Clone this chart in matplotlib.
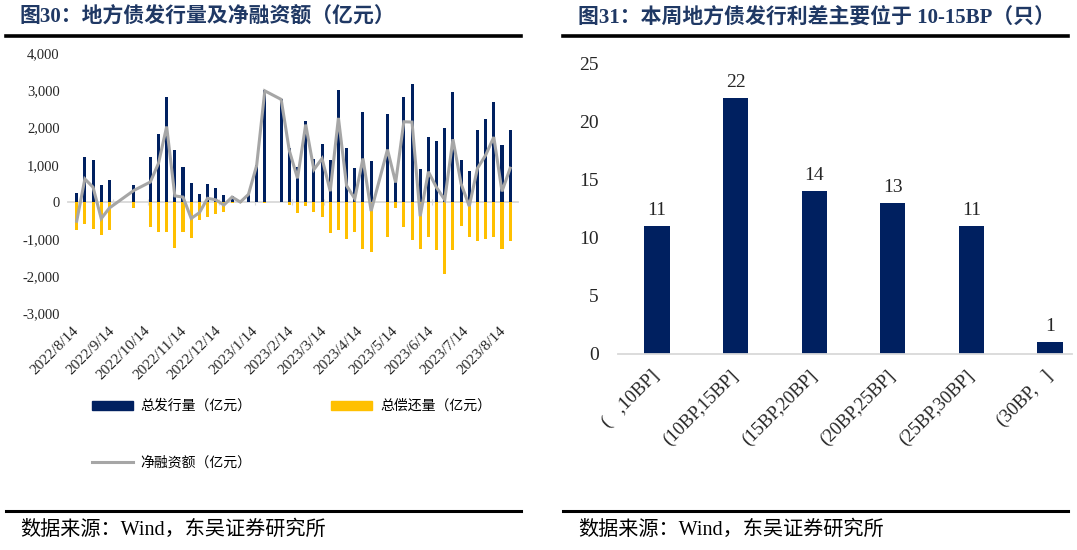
import matplotlib
matplotlib.use('Agg')
import matplotlib.pyplot as plt
import matplotlib.dates as mdates
from matplotlib.lines import Line2D
from matplotlib.patches import Patch
from matplotlib.ticker import FuncFormatter
import pandas as pd

plt.rcParams['font.family'] = ['Liberation Serif', 'Noto Sans CJK SC']

# ---------------- Left chart data (weekly, 亿元) ----------------
week_dates = ['2022-08-14', '2022-08-21', '2022-08-28', '2022-09-04', '2022-09-11',
              '2022-10-02', '2022-10-16', '2022-10-23', '2022-10-30', '2022-11-06',
              '2022-11-13', '2022-11-20', '2022-11-27', '2022-12-04', '2022-12-11',
              '2022-12-18', '2022-12-25', '2023-01-01', '2023-01-08', '2023-01-15',
              '2023-01-22', '2023-02-05', '2023-02-12', '2023-02-19', '2023-02-26',
              '2023-03-05', '2023-03-12', '2023-03-19', '2023-03-26', '2023-04-02',
              '2023-04-09', '2023-04-16', '2023-04-23', '2023-05-07', '2023-05-14',
              '2023-05-21', '2023-05-28', '2023-06-04', '2023-06-11', '2023-06-18',
              '2023-06-25', '2023-07-02', '2023-07-09', '2023-07-16', '2023-07-23',
              '2023-07-30', '2023-08-06', '2023-08-13', '2023-08-20']
issuance = [250, 1220, 1130, 450, 580,
            466, 1210, 1837, 2822, 1407,
            941, 520, 206, 493, 385,
            179, 150, 30, 210, 990,
            3010, 2770, 1455, 945, 2186,
            1156, 1555, 1129, 3015, 1447,
            905, 2432, 1106, 2360, 700,
            2835, 3168, 891, 1742, 1640,
            2002, 2970, 1135, 824, 1944,
            2240, 2679, 1541, 1944]
repayment = [-760, -590, -735, -887, -744,
             -152, -672, -806, -806, -1236,
             -806, -968, -493, -403, -331,
             -269, -15, -30, -5, -10,
             -20, -5, -90, -296, -103,
             -278, -394, -824, -744, -1000,
             -797, -1272, -1335, -950, -170,
             -672, -1021, -1268, -932, -1281,
             -1926, -1290, -645, -932, -1039,
             -986, -932, -1254, -1039]
net_financing = [-515, 620, 400, -445, -160,
                 314, 538, 1040, 2030, 165,
                 134, -440, -287, 100, 60,
                 -80, 134, 0, 205, 980,
                 2990, 2760, 1380, 640, 2083,
                 873, 1170, 292, 2262, 440,
                 90, 1170, -240, 1410, 525,
                 2160, 2150, -380, 815, 390,
                 60, 1688, 490, -110, 908,
                 1260, 1747, 287, 910]
month_ticks = ['2022-08-14', '2022-09-14', '2022-10-14', '2022-11-14', '2022-12-14',
               '2023-01-14', '2023-02-14', '2023-03-14', '2023-04-14', '2023-05-14',
               '2023-06-14', '2023-07-14', '2023-08-14']
month_labels = ['2022/8/14', '2022/9/14', '2022/10/14', '2022/11/14', '2022/12/14',
                '2023/1/14', '2023/2/14', '2023/3/14', '2023/4/14', '2023/5/14',
                '2023/6/14', '2023/7/14', '2023/8/14']
legend_labels = ['总发行量（亿元）', '总偿还量（亿元）', '净融资额（亿元）']

# ---------------- Right chart data ----------------
spread_bins = ['(   ,10BP]', '(10BP,15BP]', '(15BP,20BP]', '(20BP,25BP]',
               '(25BP,30BP]', '(30BP,   ]']
spread_counts = [11, 22, 14, 13, 11, 1]

NAVY = '#002060'
YELLOW = '#FFC000'
GRAY = '#A6A6A6'
ZERO = '#D9D9D9'
TXT = '#262626'
TITLE = '#1F3864'
SERIF_CJK = ['Liberation Serif', 'Noto Sans CJK SC']

W, H = 1077, 550
fig = plt.figure(figsize=(W / 100, H / 100), dpi=100)


def px(l, t, r, b):
    return [l / W, 1 - b / H, (r - l) / W, (b - t) / H]


# ================= Left chart =================
axL = fig.add_axes(px(68, 53.3, 518, 313.6))
d = pd.to_datetime(week_dates)
axL.bar(d, issuance, width=2.6, color=NAVY, zorder=2)
axL.bar(d, repayment, width=2.6, color=YELLOW, zorder=2)
axL.plot(d, net_financing, color=GRAY, lw=2.2, zorder=3, solid_joinstyle='miter')

x0 = pd.Timestamp(week_dates[0]) - pd.Timedelta(days=7.44)
x1 = pd.Timestamp(week_dates[-1]) + pd.Timedelta(days=6.7)
axL.set_xlim(x0, x1)
axL.set_ylim(-3000, 4000)
axL.set_yticks(range(-3000, 4001, 1000))
axL.yaxis.set_major_formatter(FuncFormatter(lambda v, p: f'{int(v):,}'))
axL.tick_params(axis='y', length=0, pad=6, labelsize=10.5, labelcolor=TXT)

for s in ['left', 'right', 'top']:
    axL.spines[s].set_visible(False)
axL.spines['bottom'].set_position(('data', 0))
axL.spines['bottom'].set_color(ZERO)
axL.spines['bottom'].set_linewidth(1.3)
axL.spines['bottom'].set_zorder(1)
axL.set_xticks(pd.to_datetime(month_ticks))
axL.set_xticklabels(month_labels, rotation=45, ha='right', rotation_mode='anchor',
                    va='center')
axL.tick_params(axis='x', direction='inout', length=4, color=ZERO, pad=89,
                labelsize=11, labelcolor=TXT)

handles = [Patch(color=NAVY), Line2D([], [], color=GRAY, lw=2.2), Patch(color=YELLOW)]
labels = [legend_labels[0], legend_labels[2], legend_labels[1]]
fig.legend(handles, labels, ncol=2, loc='upper left',
           bbox_to_anchor=(92 / W, 1 - 399 / H), frameon=False,
           prop={'family': 'Noto Sans CJK SC', 'size': 10},
           handlelength=2.95, handleheight=0.6, handletextpad=0.55,
           columnspacing=5.75, labelspacing=3.04, borderpad=0, borderaxespad=0)

# ================= Right chart =================
axR = fig.add_axes(px(618, 63, 1072, 354))
xs = range(len(spread_bins))
bars = axR.bar(xs, spread_counts, width=0.32, color=NAVY, zorder=2)
axR.bar_label(bars, labels=[str(v) for v in spread_counts], padding=5,
              fontsize=14, color=TXT)
axR.set_xlim(-0.496, 5.28)
axR.set_ylim(0, 25)
axR.set_yticks(range(0, 26, 5))
axR.tick_params(axis='y', length=0, pad=14, labelsize=14, labelcolor=TXT)
for s in ['left', 'right', 'top']:
    axR.spines[s].set_visible(False)
axR.spines['bottom'].set_color(ZERO)
axR.spines['bottom'].set_linewidth(1.3)
axR.set_xticks(list(xs))
axR.set_xticklabels(spread_bins, rotation=45, ha='right', rotation_mode='anchor',
                    va='center')
axR.tick_params(axis='x', length=0, pad=14, labelsize=13.5, labelcolor=TXT)

# ================= Titles, rules, footers =================
fig.text(20 / W, 1 - 18 / H, '图30：地方债发行量及净融资额（亿元）', fontsize=15,
         fontweight='bold', color=TITLE, va='center', ha='left', family=SERIF_CJK)
fig.text(578 / W, 1 - 18 / H, '图31：本周地方债发行利差主要位于 10-15BP（只）', fontsize=15,
         fontweight='bold', color=TITLE, va='center', ha='left', family=SERIF_CJK)

for (a, b) in [(6, 521), (563, 1068)]:
    fig.add_artist(Line2D([a / W, b / W], [1 - 35.5 / H] * 2, color='black', lw=2.6))
    fig.add_artist(Line2D([a / W, b / W], [1 - 511 / H] * 2, color='black', lw=2.2))

fig.text(20 / W, 1 - 530 / H, '数据来源：Wind，东吴证券研究所', fontsize=14.5,
         color='black', va='center', ha='left', family=SERIF_CJK)
fig.text(578 / W, 1 - 530 / H, '数据来源：Wind，东吴证券研究所', fontsize=14.5,
         color='black', va='center', ha='left', family=SERIF_CJK)

fig.savefig('out.png', dpi=100)
